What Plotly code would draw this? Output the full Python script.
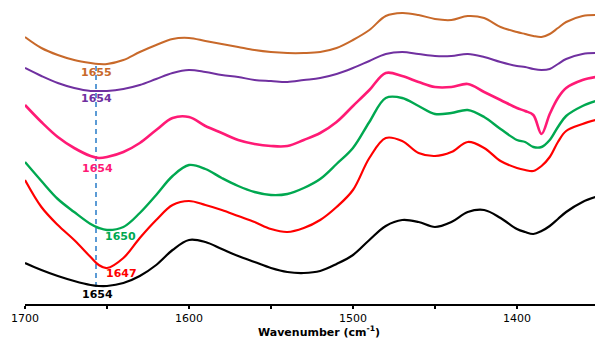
import plotly.graph_objects as go

# Wavenumber grid (cm-1)
wavenumber = [1700, 1690, 1680, 1670, 1660, 1655, 1650, 1640, 1630, 1620,
              1610, 1600, 1590, 1580, 1570, 1560, 1550, 1540, 1530, 1520,
              1510, 1500, 1490, 1480, 1470, 1460, 1450, 1440, 1430, 1420,
              1410, 1400, 1395, 1390, 1385, 1380, 1375, 1370, 1360, 1352]

# Absorbance (a.u., stacked spectra)
orange = [2.67, 2.56, 2.49, 2.44, 2.41, 2.40, 2.40, 2.44, 2.52, 2.59,
          2.65, 2.66, 2.63, 2.60, 2.57, 2.54, 2.52, 2.51, 2.51, 2.52,
          2.56, 2.64, 2.74, 2.88, 2.91, 2.89, 2.85, 2.84, 2.88, 2.86,
          2.77, 2.72, 2.70, 2.68, 2.67, 2.70, 2.76, 2.82, 2.88, 2.89]
purple = [2.36, 2.28, 2.21, 2.16, 2.13, 2.13, 2.13, 2.15, 2.19, 2.25,
          2.31, 2.34, 2.32, 2.29, 2.27, 2.24, 2.23, 2.22, 2.24, 2.26,
          2.30, 2.36, 2.43, 2.50, 2.52, 2.50, 2.48, 2.48, 2.50, 2.47,
          2.42, 2.38, 2.37, 2.35, 2.34, 2.35, 2.40, 2.45, 2.50, 2.51]
pink = [1.99, 1.82, 1.67, 1.56, 1.48, 1.46, 1.47, 1.52, 1.61, 1.74,
        1.86, 1.87, 1.78, 1.71, 1.64, 1.60, 1.58, 1.58, 1.64, 1.71,
        1.82, 1.98, 2.14, 2.31, 2.28, 2.22, 2.17, 2.17, 2.20, 2.12,
        2.04, 1.96, 1.93, 1.89, 1.70, 1.90, 2.06, 2.16, 2.24, 2.27]
green = [1.42, 1.23, 1.05, 0.92, 0.80, 0.76, 0.74, 0.77, 0.91, 1.09,
         1.28, 1.39, 1.35, 1.26, 1.18, 1.12, 1.09, 1.10, 1.16, 1.25,
         1.40, 1.56, 1.82, 2.06, 2.06, 1.98, 1.90, 1.91, 1.94, 1.87,
         1.75, 1.64, 1.62, 1.57, 1.57, 1.64, 1.77, 1.88, 1.98, 2.03]
red = [1.24, 0.97, 0.79, 0.64, 0.47, 0.39, 0.36, 0.46, 0.66, 0.84,
       0.99, 1.03, 0.99, 0.94, 0.88, 0.82, 0.75, 0.72, 0.76, 0.84,
       0.97, 1.14, 1.46, 1.66, 1.63, 1.51, 1.48, 1.52, 1.62, 1.56,
       1.43, 1.36, 1.34, 1.33, 1.38, 1.47, 1.62, 1.73, 1.80, 1.84]
black = [0.41, 0.34, 0.28, 0.23, 0.19, 0.18, 0.18, 0.21, 0.28, 0.39,
         0.54, 0.64, 0.62, 0.55, 0.48, 0.42, 0.36, 0.32, 0.31, 0.33,
         0.40, 0.49, 0.64, 0.78, 0.84, 0.82, 0.77, 0.82, 0.92, 0.94,
         0.86, 0.75, 0.72, 0.70, 0.73, 0.78, 0.85, 0.92, 1.02, 1.07]

series = [
    ("orange", orange, "#C8692A", 2.0),
    ("purple", purple, "#7030A0", 2.0),
    ("pink", pink, "#FF1A75", 2.6),
    ("green", green, "#00A850", 2.4),
    ("red", red, "#FF0000", 2.2),
    ("black", black, "#000000", 2.2),
]

# Peak labels: text, wavenumber, absorbance position, colour
peak_text = ["1655", "1654", "1654", "1650", "1647", "1654"]
peak_wn = [1656.5, 1656.5, 1656, 1641.5, 1641, 1656]
peak_abs = [2.32, 2.06, 1.36, 0.68, 0.31, 0.10]
peak_colors = ["#C8692A", "#7030A0", "#FF1A75", "#00A850", "#FF0000", "#000000"]

marker_wn = 1656.7
marker_span = [0.17, 2.39]

tick_vals = [1700, 1650, 1600, 1550, 1500, 1450, 1400]
tick_text = ["1700", "", "1600", "", "1500", "", "1400"]

fig = go.Figure()

fig.add_shape(type="line", x0=marker_wn, x1=marker_wn, y0=marker_span[0], y1=marker_span[1],
              xref="x", yref="y", line=dict(color="#5B9BD5", width=2, dash="5px,4px"), layer="below")

for name, vals, color, w in series:
    fig.add_trace(go.Scatter(x=wavenumber, y=vals, mode="lines", name=name,
                             line=dict(color=color, width=w, shape="spline", smoothing=1.0),
                             showlegend=False, hoverinfo="skip", cliponaxis=False))

for t, xw, ya, c in zip(peak_text, peak_wn, peak_abs, peak_colors):
    fig.add_annotation(x=xw, y=ya, text="<b>%s</b>" % t, showarrow=False,
                       font=dict(family="DejaVu Sans", size=11, color=c),
                       xanchor="center", yanchor="middle")

# axis title
fig.add_annotation(x=1521, xref="x", yref="paper",
                   y=-27.5 / 304, text="<b>Wavenumber (cm<sup>-1</sup>)</b>", showarrow=False,
                   font=dict(family="DejaVu Sans", size=11, color="#000000"), borderpad=0,
                   xanchor="center", yanchor="middle")

fig.update_layout(
    width=595, height=338,
    margin=dict(l=25, r=0, t=0, b=34, autoexpand=False),
    paper_bgcolor="white", plot_bgcolor="white",
    xaxis=dict(range=[1700, 1352.4], showgrid=False, zeroline=False, automargin=False,
               showline=True, linecolor="black", linewidth=2,
               ticks="outside", ticklen=3, tickwidth=2, tickcolor="black",
               tickvals=tick_vals, ticktext=tick_text,
               tickfont=dict(family="DejaVu Sans", size=11, color="black")),
    yaxis=dict(range=[0, 3.04], visible=False, automargin=False),
)

fig.write_html("out.html", config={"displayModeBar": False},
               post_script="document.body.style.margin='0';document.body.style.overflow='hidden';")
